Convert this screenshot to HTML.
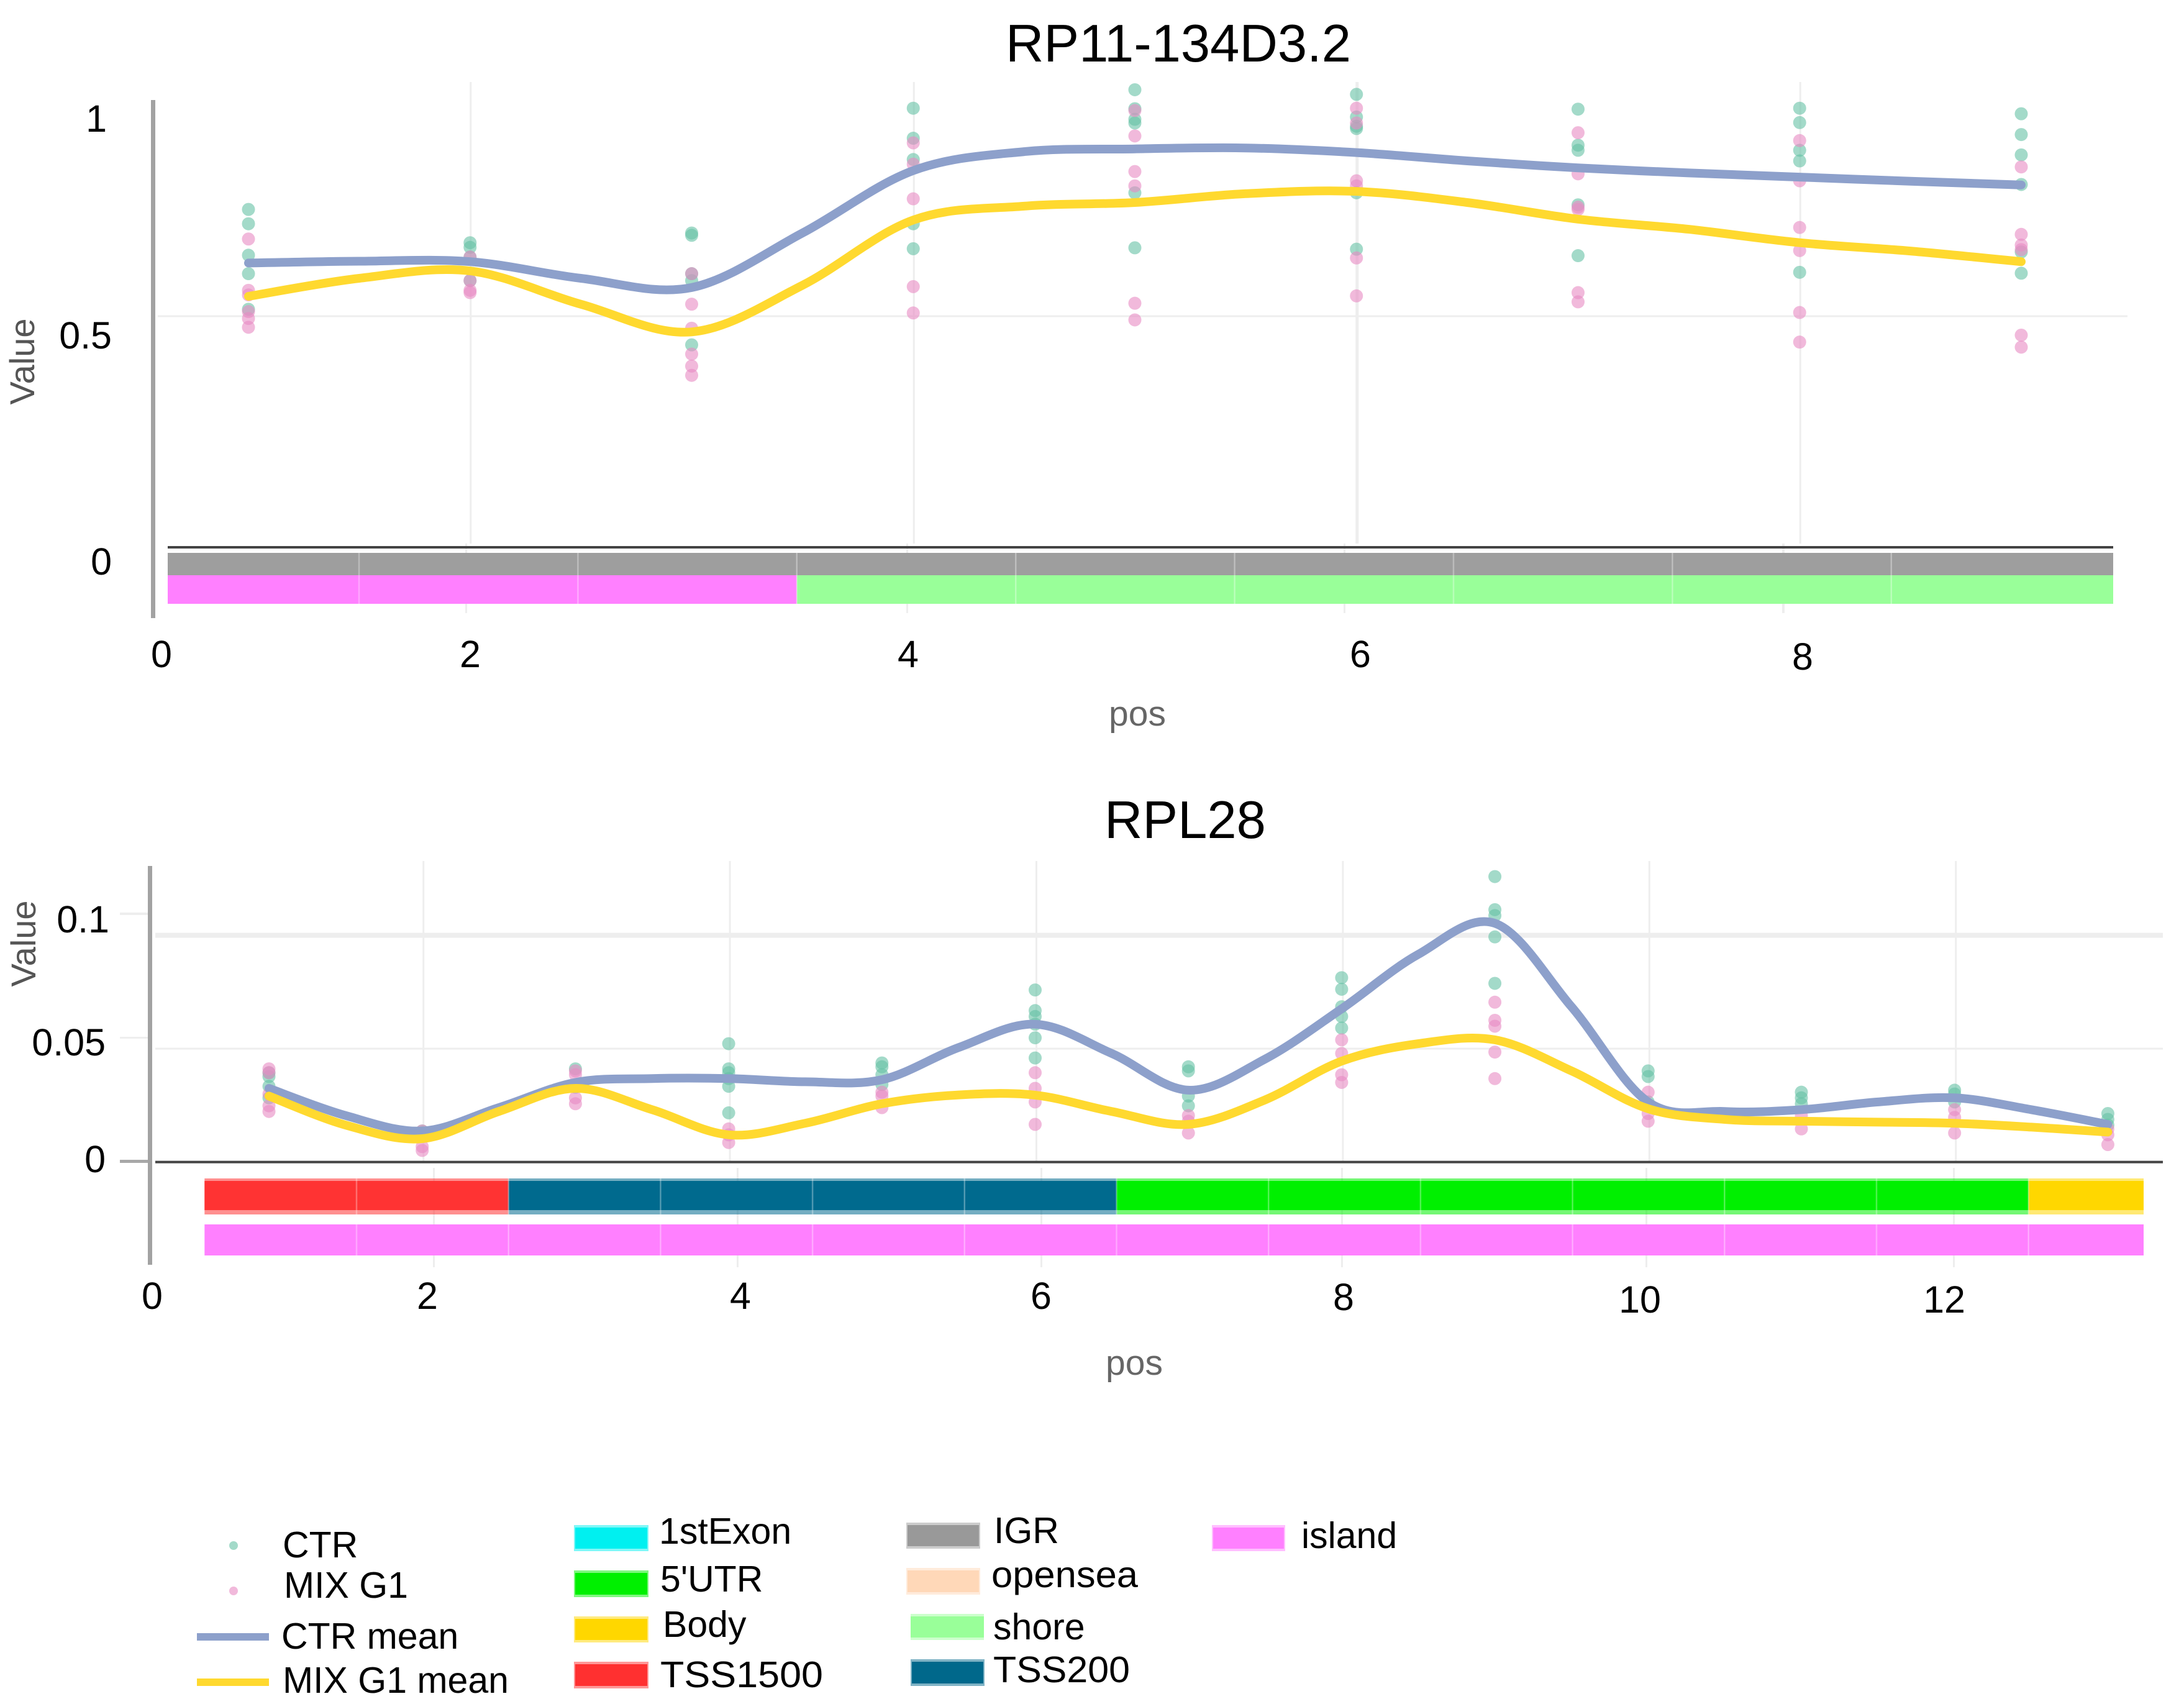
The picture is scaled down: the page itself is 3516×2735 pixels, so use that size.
<!DOCTYPE html>
<html lang="en">
<head>
<meta charset="utf-8">
<title>RP11-134D3.2 and RPL28 methylation value by position</title>
<style>
html,body{margin:0;padding:0;background:#fff;}
svg{display:block;font-family:"Liberation Sans",sans-serif;}
</style>
</head>
<body>
<svg id="chart" xmlns="http://www.w3.org/2000/svg" width="3516" height="2735" viewBox="0 0 3516 2735">
  <rect width="3516" height="2735" fill="#ffffff"/>

  <g fill="#eeeeee">
    <rect x="749" y="875" width="3" height="112"/>
    <rect x="1459" y="875" width="3" height="112"/>
    <rect x="2163" y="875" width="3" height="112"/>
    <rect x="2869" y="875" width="4" height="112"/>
    <rect x="697" y="1880" width="3" height="160"/>
    <rect x="1186" y="1880" width="3" height="160"/>
    <rect x="1675" y="1880" width="3" height="160"/>
    <rect x="2159" y="1880" width="3" height="160"/>
    <rect x="2649" y="1880" width="3" height="160"/>
    <rect x="3144" y="1880" width="3" height="160"/>
    <rect x="193" y="1469" width="48" height="4"/>
    <rect x="193" y="1669" width="48" height="3"/>
    <rect x="193" y="1867" width="48" height="5" fill="#a8a8a8"/>
  </g>

  <g id="p1-layer"></g>
  <g id="p2-layer"></g>

  <text x="1897" y="99" font-size="85" text-anchor="middle" fill="#000">RP11-134D3.2</text>
  <text x="1908" y="1349" font-size="85" text-anchor="middle" fill="#000">RPL28</text>

  <g font-size="61" fill="#000" text-anchor="end">
    <text x="172" y="212">1</text>
    <text x="180" y="561">0.5</text>
    <text x="180" y="925">0</text>
  </g>
  <g font-size="61" fill="#000" text-anchor="middle">
    <text x="260" y="1074">0</text>
    <text x="757" y="1074">2</text>
    <text x="1462" y="1074">4</text>
    <text x="2190" y="1074">6</text>
    <text x="2902" y="1078">8</text>
  </g>
  <text transform="translate(55,582) rotate(-90)" font-size="56" text-anchor="middle" fill="#555">Value</text>
  <text x="1831" y="1168" font-size="57" text-anchor="middle" fill="#666">pos</text>

  <g font-size="61" fill="#000" text-anchor="end">
    <text x="176" y="1501">0.1</text>
    <text x="170" y="1699">0.05</text>
    <text x="170" y="1887">0</text>
  </g>
  <g font-size="61" fill="#000" text-anchor="middle">
    <text x="245" y="2107">0</text>
    <text x="688" y="2107">2</text>
    <text x="1192" y="2107">4</text>
    <text x="1676" y="2107">6</text>
    <text x="2163" y="2109">8</text>
    <text x="2640" y="2113">10</text>
    <text x="3130" y="2113">12</text>
  </g>
  <text transform="translate(57,1519) rotate(-90)" font-size="56" text-anchor="middle" fill="#555">Value</text>
  <text x="1826" y="2213" font-size="57" text-anchor="middle" fill="#666">pos</text>

  <g font-size="59" fill="#000">
    <g>
      <circle cx="376" cy="2488" r="7" fill="#66c2a5" fill-opacity="0.6"/>
      <text x="455" y="2507">CTR</text>
    </g>
    <g>
      <circle cx="376" cy="2561" r="7" fill="#e78ac3" fill-opacity="0.6"/>
      <text x="457" y="2572">MIX G1</text>
    </g>
    <g>
      <rect x="317" y="2629" width="116" height="12" fill="#8da0cb"/>
      <text x="453" y="2654">CTR mean</text>
    </g>
    <g>
      <rect x="317" y="2702" width="116" height="12" fill="#ffd92f"/>
      <text x="455" y="2725" textLength="364" lengthAdjust="spacingAndGlyphs">MIX G1 mean</text>
    </g>

    <g>
      <rect x="924" y="2455" width="120" height="42" fill="#00f0f0" fill-opacity="0.5"/>
      <rect x="926" y="2459" width="116" height="34" fill="#00f0f0"/>
      <text x="1061" y="2485">1stExon</text>
    </g>
    <g>
      <rect x="924" y="2528" width="120" height="43" fill="#00f000" fill-opacity="0.5"/>
      <rect x="926" y="2532" width="116" height="35" fill="#00f000"/>
      <text x="1063" y="2562">5'UTR</text>
    </g>
    <g>
      <rect x="924" y="2602" width="120" height="42" fill="#ffd700" fill-opacity="0.5"/>
      <rect x="926" y="2606" width="116" height="34" fill="#ffd700"/>
      <text x="1067" y="2635">Body</text>
    </g>
    <g>
      <rect x="924" y="2675" width="120" height="43" fill="#ff3030" fill-opacity="0.5"/>
      <rect x="926" y="2679" width="116" height="35" fill="#ff3030"/>
      <text x="1063" y="2716" textLength="262" lengthAdjust="spacingAndGlyphs">TSS1500</text>
    </g>

    <g>
      <rect x="1459" y="2451" width="119" height="42" fill="#999999" fill-opacity="0.5"/>
      <rect x="1461" y="2455" width="115" height="34" fill="#999999"/>
      <text x="1600" y="2484">IGR</text>
    </g>
    <g>
      <rect x="1459" y="2524" width="119" height="43" fill="#ffd8b8" fill-opacity="0.5"/>
      <rect x="1461" y="2528" width="115" height="35" fill="#ffd8b8"/>
      <text x="1596" y="2555" textLength="236" lengthAdjust="spacingAndGlyphs">opensea</text>
    </g>
    <g>
      <rect x="1466" y="2598" width="118" height="42" fill="#99ff99" fill-opacity="0.5"/>
      <rect x="1466" y="2602" width="118" height="34" fill="#99ff99"/>
      <text x="1599" y="2639">shore</text>
    </g>
    <g>
      <rect x="1466" y="2671" width="119" height="43" fill="#00688b" fill-opacity="0.5"/>
      <rect x="1468" y="2675" width="115" height="35" fill="#00688b"/>
      <text x="1599" y="2708" textLength="220" lengthAdjust="spacingAndGlyphs">TSS200</text>
    </g>

    <g>
      <rect x="1951" y="2455" width="118" height="42" fill="#ff80ff" fill-opacity="0.5"/>
      <rect x="1953" y="2459" width="114" height="34" fill="#ff80ff"/>
      <text x="2095" y="2492">island</text>
    </g>
  </g>
</svg>

<script>
// ---- Panel 1: RP11-134D3.2 ----
const p1Positions = [1, 2, 3, 4, 5, 6, 7, 8, 9];
const p1CtrPoints = [
  [0.731, 0.700, 0.632, 0.592, 0.515],
  [0.659, 0.649, 0.628, 0.577],
  [0.680, 0.675, 0.592, 0.577, 0.438],
  [0.950, 0.885, 0.839, 0.700, 0.646],
  [0.990, 0.949, 0.926, 0.918, 0.767, 0.648],
  [0.980, 0.931, 0.911, 0.906, 0.767, 0.645],
  [0.948, 0.870, 0.859, 0.741, 0.631],
  [0.950, 0.919, 0.859, 0.836, 0.595],
  [0.938, 0.893, 0.849, 0.785, 0.639, 0.593]
];
const p1MixPoints = [
  [0.667, 0.556, 0.546, 0.510, 0.495, 0.476],
  [0.628, 0.577, 0.556, 0.551],
  [0.592, 0.526, 0.474, 0.418, 0.392, 0.372],
  [0.875, 0.829, 0.754, 0.564, 0.507],
  [0.945, 0.890, 0.813, 0.782, 0.528, 0.492],
  [0.950, 0.918, 0.793, 0.782, 0.626, 0.544],
  [0.897, 0.808, 0.736, 0.731, 0.551, 0.531],
  [0.880, 0.793, 0.692, 0.642, 0.508, 0.444],
  [0.823, 0.677, 0.654, 0.644, 0.459, 0.433]
];
const p1MeanPositions = [1, 1.5, 2, 2.5, 3, 3.5, 4, 4.5, 5, 5.5, 6, 6.5, 7, 7.5, 8, 8.5, 9];
const p1CtrMean = [0.615, 0.619, 0.618, 0.582, 0.562, 0.680, 0.815, 0.856, 0.862, 0.864, 0.854, 0.836, 0.821, 0.810, 0.801, 0.792, 0.784];
const p1MixMean = [0.543, 0.582, 0.598, 0.526, 0.466, 0.567, 0.708, 0.738, 0.746, 0.765, 0.770, 0.746, 0.710, 0.688, 0.659, 0.641, 0.618];
const p1RegionRow = ['IGR', 'IGR', 'IGR', 'IGR', 'IGR', 'IGR', 'IGR', 'IGR', 'IGR'];
const p1IslandRow = ['island', 'island', 'island', 'shore', 'shore', 'shore', 'shore', 'shore', 'shore'];
const p1XGrid = [2, 4, 6, 8];
const p1YGrid = [0.5];

// ---- Panel 2: RPL28 ----
const p2Positions = [1, 2, 3, 4, 5, 6, 7, 8, 9, 10, 11, 12, 13];
const p2CtrPoints = [
  [0.0394, 0.0377, 0.0334, 0.0283],
  [0.0137, 0.0130],
  [0.0411, 0.0330],
  [0.0522, 0.0411, 0.0394, 0.0368, 0.0334, 0.0217],
  [0.0437, 0.0420, 0.0385, 0.0342],
  [0.0759, 0.0668, 0.0642, 0.0608, 0.0548, 0.0459],
  [0.0420, 0.0402, 0.0291, 0.0248],
  [0.0813, 0.0762, 0.0685, 0.0642, 0.0591],
  [0.1259, 0.1113, 0.1087, 0.0993, 0.0788],
  [0.0402, 0.0377, 0.0265],
  [0.0308, 0.0283, 0.0257],
  [0.0317, 0.0300, 0.0265],
  [0.0214, 0.0188, 0.0163]
];
const p2MixPoints = [
  [0.0411, 0.0394, 0.0300, 0.0248, 0.0223],
  [0.0137, 0.0068, 0.0051],
  [0.0402, 0.0385, 0.0283, 0.0257],
  [0.0146, 0.0120, 0.0086],
  [0.0308, 0.0291, 0.0240],
  [0.0394, 0.0325, 0.0265, 0.0166],
  [0.0205, 0.0180, 0.0128],
  [0.0539, 0.0479, 0.0385, 0.0351],
  [0.0705, 0.0625, 0.0599, 0.0485, 0.0368],
  [0.0308, 0.0214, 0.0180],
  [0.0205, 0.0146],
  [0.0231, 0.0197, 0.0128],
  [0.0146, 0.0120, 0.0077]
];
const p2MeanPositions = [1, 1.5, 2, 2.5, 3, 3.5, 4, 4.5, 5, 5.5, 6, 6.5, 7, 7.5, 8, 8.5, 9, 9.5, 10, 10.5, 11, 11.5, 12, 12.5, 13];
const p2CtrMean = [0.0325, 0.0205, 0.0137, 0.0240, 0.0351, 0.0368, 0.0368, 0.0354, 0.0363, 0.0505, 0.0608, 0.0479, 0.0317, 0.0454, 0.0676, 0.0916, 0.1053, 0.0685, 0.0265, 0.0223, 0.0231, 0.0265, 0.0283, 0.0231, 0.0166];
const p2MixMean = [0.0291, 0.0163, 0.0103, 0.0223, 0.0325, 0.0231, 0.0120, 0.0171, 0.0257, 0.0296, 0.0295, 0.0223, 0.0166, 0.0274, 0.0445, 0.0522, 0.0539, 0.0402, 0.0235, 0.0188, 0.0180, 0.0176, 0.0171, 0.0154, 0.0132];
const p2RegionRow = ['TSS1500', 'TSS1500', 'TSS200', 'TSS200', 'TSS200', 'TSS200', "5'UTR", "5'UTR", "5'UTR", "5'UTR", "5'UTR", "5'UTR", 'Body'];
const p2IslandRow = ['island', 'island', 'island', 'island', 'island', 'island', 'island', 'island', 'island', 'island', 'island', 'island', 'island'];
const p2XGrid = [2, 4, 6, 8, 10, 12];
const p2YGrid = [0.05, 0.1];

const annotationColors = {
  "IGR": "#9e9e9e",
  "island": "#ff80ff",
  "shore": "#99ff99",
  "TSS1500": "#ff3333",
  "TSS200": "#006a8e",
  "5'UTR": "#00f000",
  "Body": "#ffd700"
};

const SVG_NS = 'http://www.w3.org/2000/svg';

function make(parent, tag, attrs) {
  const node = document.createElementNS(SVG_NS, tag);
  for (const key in attrs) node.setAttribute(key, attrs[key]);
  parent.appendChild(node);
  return node;
}

// Axis functions
const p1X = p => 400 + (p - 1) * 356.75;
const p1Y = v => 881 - 744 * v;
const p1BarX = p => (p >= 9.5 ? 3402 : Math.max(270, 578 + (p - 1.5) * 352.4));
const p2X = p => 433 + (p - 1) * 246.7;
const p2Y = v => 1870.6 - 3650 * v;
const p2BarX = p => Math.min(3451, Math.max(328, 574 + (p - 1.5) * 244.7));

function splinePath(xs, ys, xScale, yScale) {
  const pts = xs.map((p, i) => [xScale(p), yScale(ys[i])]);
  let d = 'M' + pts[0][0].toFixed(1) + ' ' + pts[0][1].toFixed(1);
  for (let i = 0; i < pts.length - 1; i++) {
    const a = pts[Math.max(0, i - 1)];
    const b = pts[i];
    const c = pts[i + 1];
    const e = pts[Math.min(pts.length - 1, i + 2)];
    const c1x = b[0] + (c[0] - a[0]) / 6;
    const c1y = b[1] + (c[1] - a[1]) / 6;
    const c2x = c[0] - (e[0] - b[0]) / 6;
    const c2y = c[1] - (e[1] - b[1]) / 6;
    d += 'C' + c1x.toFixed(1) + ' ' + c1y.toFixed(1) + ' ' + c2x.toFixed(1) + ' ' + c2y.toFixed(1) + ' ' + c[0].toFixed(1) + ' ' + c[1].toFixed(1);
  }
  return d;
}

function drawPanel(cfg) {
  const g = document.getElementById(cfg.layer);

  cfg.xGrid.forEach(t => {
    const el = make(g, 'line', { x1: cfg.x(t) + cfg.gridShift, x2: cfg.x(t) + cfg.gridShift, y1: cfg.gridTop, y2: cfg.gridBottom, stroke: '#eeeeee', 'stroke-width': cfg.gridWidth(t) });
    
    
  });
  cfg.yGrid.forEach(t => {
    const el = make(g, 'line', { x1: cfg.gridLeft, x2: cfg.gridRight, y1: cfg.y(t), y2: cfg.y(t), stroke: '#eeeeee', 'stroke-width': cfg.hGridWidth(t) });
    
    
  });

  const axis = make(g, 'rect', { x: cfg.axisX, y: cfg.axisTop, width: 7, height: cfg.axisBottom - cfg.axisTop, fill: '#a2a2a2' });
  
  

  cfg.rows.forEach(row => {
    row.cells.forEach((cat, i) => {
      const x0 = cfg.barX(cfg.positions[i] - 0.5);
      const x1 = cfg.barX(cfg.positions[i] + 0.5);
      const color = annotationColors[cat];
      if (row.edgeTop !== undefined) {
        const edge = make(g, 'rect', { x: x0, y: row.edgeTop, width: x1 - x0, height: row.edgeBottom - row.edgeTop, fill: color, 'fill-opacity': 0.55 });
        
        
      }
      const cell = make(g, 'rect', { x: x0, y: row.top, width: x1 - x0, height: row.bottom - row.top, fill: color });
      
      
      if (i > 0) {
        const sep = make(g, 'line', { x1: x0, x2: x0, y1: row.edgeTop !== undefined ? row.edgeTop : row.top, y2: row.edgeBottom !== undefined ? row.edgeBottom : row.bottom, stroke: '#ffffff', 'stroke-opacity': 0.3, 'stroke-width': 2.5 });
        
        
      }
    });
  });

  const zero = make(g, 'line', { x1: cfg.zeroLeft, x2: cfg.zeroRight, y1: cfg.y(0), y2: cfg.y(0), stroke: '#444444', 'stroke-width': 4 });
  
  

  [[cfg.ctrPoints, '#66c2a5', 'ctr-point'], [cfg.mixPoints, '#e78ac3', 'mix-g1-point']].forEach(series => {
    series[0].forEach((vals, i) => {
      vals.forEach(v => {
        const pt = make(g, 'circle', { cx: cfg.x(cfg.positions[i]), cy: cfg.y(v), r: 10.5, fill: series[1], 'fill-opacity': 0.6 });
        
        
      });
    });
  });

  const ctrLine = make(g, 'path', { d: splinePath(cfg.meanPositions, cfg.ctrMean, cfg.x, cfg.y), fill: 'none', stroke: '#8da0cb', 'stroke-width': 14, 'stroke-linecap': 'round', 'stroke-linejoin': 'round' });
  
  

  const mixLine = make(g, 'path', { d: splinePath(cfg.meanPositions, cfg.mixMean, cfg.x, cfg.y), fill: 'none', stroke: '#ffd92f', 'stroke-width': 14, 'stroke-linecap': 'round', 'stroke-linejoin': 'round' });
  
  
}

drawPanel({
  layer: 'p1-layer',
  x: p1X, y: p1Y, barX: p1BarX,
  positions: p1Positions,
  ctrPoints: p1CtrPoints, mixPoints: p1MixPoints,
  meanPositions: p1MeanPositions, ctrMean: p1CtrMean, mixMean: p1MixMean,
  xGrid: p1XGrid, yGrid: p1YGrid, gridShift: 1,
  gridTop: 132, gridBottom: 875, gridLeft: 254, gridRight: 3425,
  gridWidth: t => (t === 6 ? 5 : 3), hGridWidth: () => 3,
  axisX: 243, axisTop: 161, axisBottom: 995,
  zeroLeft: 270, zeroRight: 3402,
  rows: [
    { cells: p1RegionRow, top: 890, bottom: 926 },
    { cells: p1IslandRow, top: 926, bottom: 972 }
  ]
});

drawPanel({
  layer: 'p2-layer',
  x: p2X, y: p2Y, barX: p2BarX,
  positions: p2Positions,
  ctrPoints: p2CtrPoints, mixPoints: p2MixPoints,
  meanPositions: p2MeanPositions, ctrMean: p2CtrMean, mixMean: p2MixMean,
  xGrid: p2XGrid, yGrid: p2YGrid, gridShift: 2,
  gridTop: 1386, gridBottom: 1870, gridLeft: 250, gridRight: 3482,
  gridWidth: () => 3, hGridWidth: t => (t === 0.1 ? 8 : 3),
  axisX: 238, axisTop: 1394, axisBottom: 2036,
  zeroLeft: 250, zeroRight: 3482,
  rows: [
    { cells: p2RegionRow, top: 1901, bottom: 1948, edgeTop: 1897, edgeBottom: 1955 },
    { cells: p2IslandRow, top: 1971, bottom: 2021 }
  ]
});
</script>
</body>
</html>
